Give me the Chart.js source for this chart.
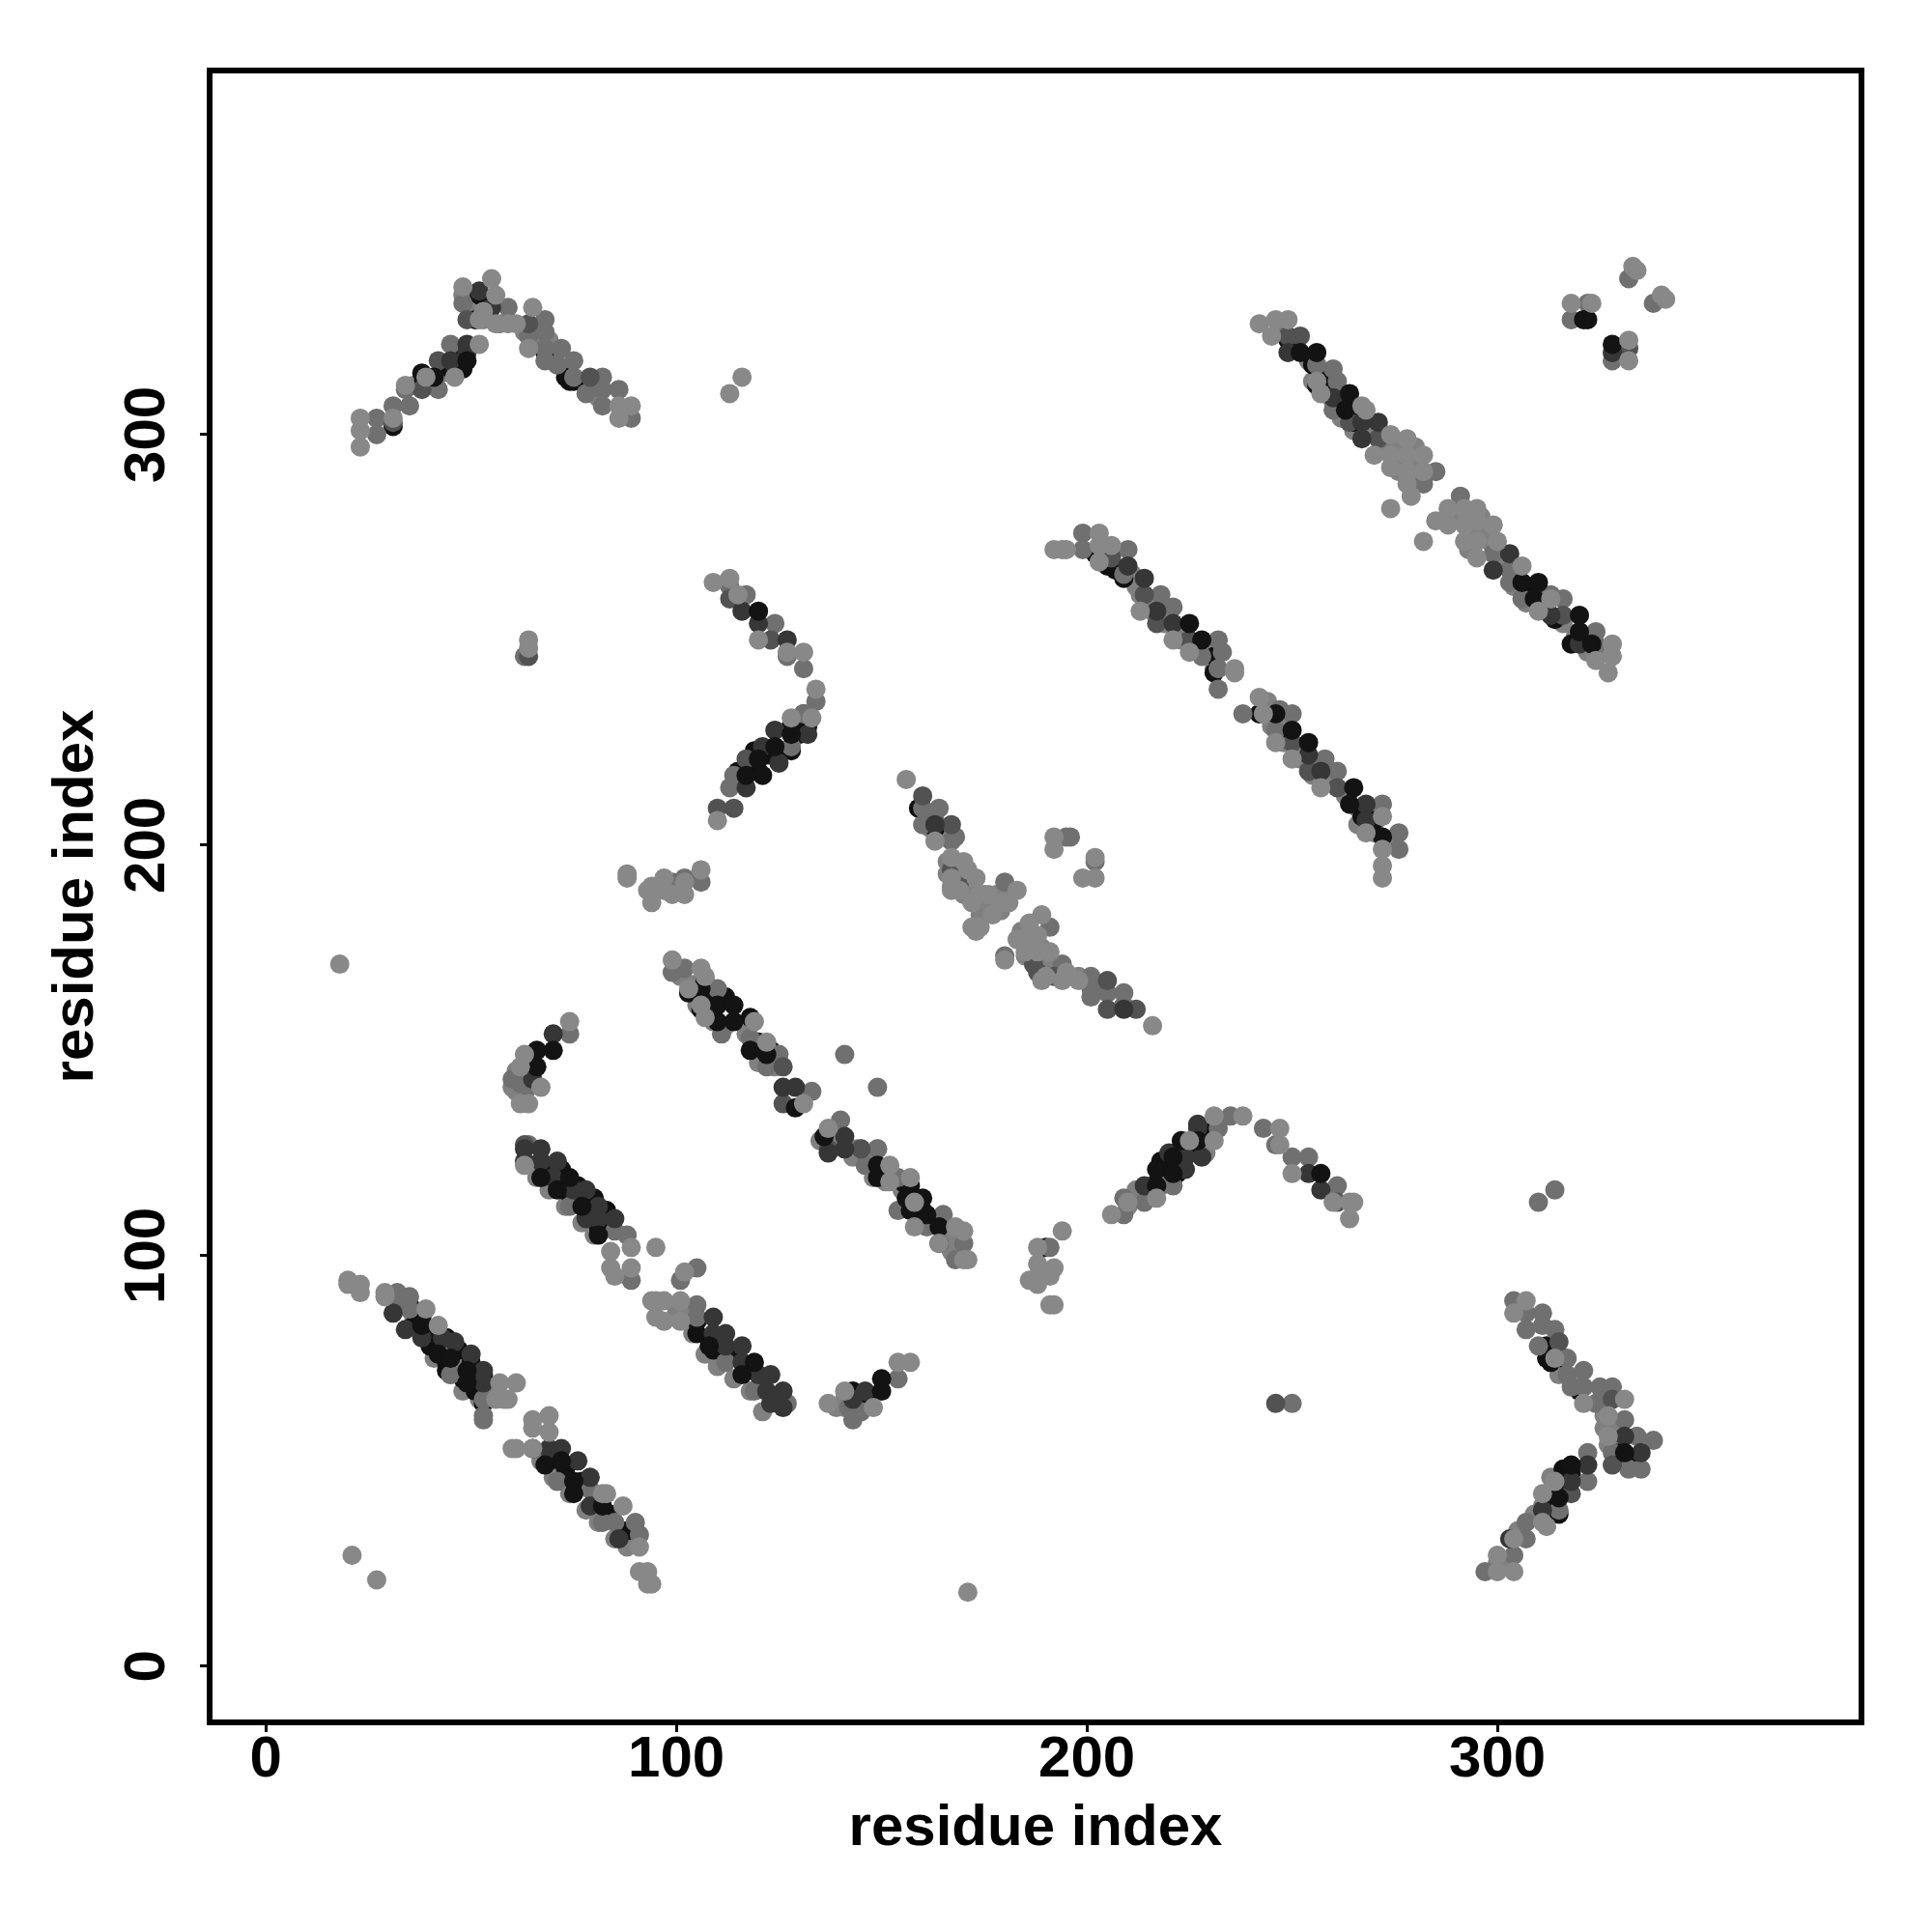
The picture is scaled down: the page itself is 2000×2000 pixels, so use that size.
<!DOCTYPE html>
<html>
<head>
<meta charset="utf-8">
<title>residue contacts</title>
<script src="https://cdn.jsdelivr.net/npm/chart.js@4"></script>
<style>
  body { margin: 0; background: #fff; }
  canvas { display: block; }
</style>
</head>
<body>
<canvas id="myChart" width="2000" height="2000"></canvas>
<script>
// contact points [residue, residue], grouped by grey level
// grey edge of the bands, mostly hidden by the darker points
const fringeDots = [[33,88],[36,85],[39,81],[41,75],[45,71],[48,67],[52,65],[43,77],[47,73],[50,68],[54,68],
  [67,50],[70,46],[74,42],[78,38],[81,35],[85,31],[88,29],
  [104,81],[107,76],[110,73],[114,70],[118,67],[121,62],[100,86],[103,86],
  [66,119],[69,116],[73,112],[77,108],[80,105],[65,122],
  [103,164],[105,161],[109,157],[112,156],[117,154],[119,150],[120,147],[124,146],[101,168],[104,166],
  [145,126],[149,126],[144,126],[148,119],[151,118],[135,128],[139,128],[143,124],[147,123],[151,120],[155,116],[159,112],[162,108],[166,104],[166,107],[167,101],
  [255,313],[258,310],[260,308],[262,304],[265,301],[276,298],[280,297],[276,294],[280,293],[276,291],[281,290],[272,297],[277,297],
  [293,280],[296,280],[293,276],[297,276],[290,280],[298,274],[293,272],[304,263],[307,259],[312,258],[311,259],
  [247,326],[251,322],[254,318],[257,315],[262,309],[266,305],[269,301],[272,299],[301,269],[305,265],[308,263],[312,259],[316,254],[319,251],[322,247],[326,247],
  [213,261],[216,257],[219,254],[223,250],[230,246],[231,243],[243,233],[245,229],[248,225],[252,221],[255,217],[266,205],[270,203],
  [216,260],[219,257],[222,253],[226,249],[229,247],[212,263],[208,267],[211,266],[220,256],[224,252],
  [244,235],[248,230],[252,224],[256,220],[259,216],[263,212],[266,209],[270,205],[274,201],[270,209],
  [166,196],[166,193],[167,190],[169,194],[170,192],[170,188],[174,186],[175,188],[174,183],[178,188],[181,188],[179,184],[177,185],[172,188],
  [184,179],[185,175],[185,173],[187,175],[187,178],[189,175],[190,172],[189,168],[192,171],[196,168],[194,169],[198,168],[162,204],[165,202],[164,202],[161,207],
  [212,114],[215,116],[210,112],[212,116],[229,125],[36,312],[40,312],[43,315],[48,334],[50,334],[51,331],[53,328],[57,327],[63,325],[65,323],[69,323],[71,317],[73,316],[79,311],[81,309],
  [313,77],[315,73],[315,71],[319,68],[325,64],[326,61],[326,58],[329,59],[327,54],[332,51],[313,42],[313,46],[311,39],[300,25],[302,25],[305,33],[309,37],
  [141,63],[144,63],[141,65],[139,63],[61,145],[60,141],[61,140],[63,147]]

const underDots = [[53,64],[65,53],[90,33],[105,84],[105,81],[62,144],[118,158],[103,164],[107,164],[106,160],[157,115],[249,323],[159,209],[163,204],[231,246],[231,242],[242,232],[68,320],[74,313],[202,271],[131,232],[128,223],[190,102],[312,78],[313,74],[316,75],[320,67],[315,37],[256,312],[61,143],[31,302],
  [36,83],[40,78],[44,74],[48,70],[51,67],[44,72],[35,88],[38,85],[41,82],[44,80],[47,77],[50,74],[53,71],
  [69,50],[73,48],[77,45],[80,40],[84,37],[88,33],[109,77],[113,76],[117,73],[121,69],[124,65],
  [71,118],[74,115],[78,112],[81,107],[68,121],[72,121],[76,117],[80,114],[83,111],
  [107,167],[109,162],[112,163],[123,150],[120,152],[155,118],[157,117],[160,111],[164,103],
  [255,317],[263,308],[261,311],[258,314],[265,303],[304,266],[308,261],[309,262],[314,255],[318,249],
  [203,271],[206,271],[205,268],[207,267],[209,265],[248,226],[267,207],[270,206],
  [120,218],[118,218],[123,222],[126,223],[130,227],[132,229],[122,222],[119,223],[115,218],[128,229],
  [216,117],[219,118],[222,120],[219,121],[222,123],[226,126],[229,130],[225,126],[218,123],
  [38,312],[45,316],[47,320],[48,316],[52,334],[51,328],[73,314],[75,313],[77,313],
  [312,75],[330,52],[332,49],[315,42],[316,45],[316,48],[318,47],[312,39],[143,63],[147,65],[143,67],[64,143],[64,145]]

const midDots = [[32,91],[35,90],[35,87],[32,89],[53,65],[53,61],[53,60],[45,71],[71,45],[79,43],[82,35],[85,35],[90,35],[91,32],[105,97],[101,94],[105,88],[105,85],[127,64],[112,74],[119,67],[64,127],
  [74,154],[60,143],[62,142],[64,141],[64,146],[74,112],[85,106],[88,105],[89,94],[111,154],[118,153],[110,165],[102,170],[99,169],[122,146],[125,149],[133,140],[141,149],[149,141],[140,133],[149,126],[146,122],[154,119],[154,111],[161,107],[165,110],[170,103],[168,99],[143,60],[145,62],[142,63],[154,70],
  [27,304],[27,300],[31,307],[35,307],[34,311],[42,311],[45,322],[48,332],[59,331],[64,324],[68,328],[68,325],[68,321],[68,318],[72,321],[71,317],[75,318],[75,314],[82,314],[78,310],[82,311],[86,311],[82,307],[89,304],[63,246],
  [113,263],[117,261],[124,254],[127,246],[131,243],[134,235],[131,232],[128,224],[114,217],[113,214],[106,191],[99,191],[102,192],
  [256,317],[260,316],[261,313],[260,306],[285,291],[282,288],[291,285],[299,271],[303,267],[303,264],[306,260],[313,261],[316,260],[324,252],[324,249],[318,328],[322,332],[328,318],[332,338],[338,332],
  [199,276],[199,272],[210,272],[209,266],[218,261],[221,258],[228,246],[232,250],[233,247],[232,243],[232,238],[238,232],[247,233],[250,232],[246,228],[258,221],[261,218],[272,210],[276,203],[276,199],[195,202],[196,202],[202,196],
  [160,209],[160,205],[164,209],[163,206],[168,202],[167,201],[180,191],[191,180],[194,171],[201,168],[201,165],[201,163],[205,164],[209,164],[209,161],[180,173],
  [191,102],[209,110],[209,114],[214,113],[218,117],[221,117],[232,131],[235,134],[243,131],[246,127],[250,124],[254,124],[261,117],
  [304,89],[307,86],[311,86],[307,82],[311,83],[310,78],[314,82],[317,75],[317,71],[321,72],[318,68],[321,68],[325,68],[328,68],[324,64],[331,60],[334,56],[338,55],[328,52],[332,48],[335,48],[322,52],[322,45],[315,38],[307,35],[307,31],[304,27],[297,23],
  [310,113],[314,116],[250,64]]

const dimDots = [[64,246],[42,318],[38,311],[79,314],[64,327],[49,328],[31,303],[113,260],[123,250],[117,221],[110,209],[114,209],[126,146],[126,137],[137,126],[145,126],[63,127],
  [249,324],[252,324],[264,303],[271,299],[206,270],[214,261],[217,254],[225,250],[261,214],[254,218],[250,225],[167,205],[160,212],[167,194],[169,191],[187,171],[188,169],[192,168],[205,167],[205,160],[212,160],[328,49],[316,256],[328,65],[315,79],[261,113],[318,42],[246,64],[332,321]]

const darkDots = [[31,86],[34,82],[38,80],[43,80],[46,79],[50,76],[53,72],[53,69],[69,53],[72,53],[76,50],[79,46],[79,39],[86,31],
  [109,85],[109,81],[112,81],[112,78],[116,78],[116,74],[120,71],[123,71],[122,67],[126,67],[123,64],[126,63],
  [70,154],[65,143],[63,126],[67,126],[63,123],[67,123],[71,123],[70,119],[75,116],[78,116],[81,112],[78,109],[81,109],[85,109],
  [126,141],[129,141],[141,129],[141,126],[137,125],[143,65],[146,67],
  [49,322],[49,320],[45,318],[52,335],[55,331],
  [116,257],[120,254],[127,250],[132,227],[124,228],[121,224],[125,220],[117,214],
  [249,320],[260,309],[267,303],[271,303],[267,299],[303,271],[299,267],[313,256],[320,249],[328,320],
  [214,265],[217,257],[221,254],[254,222],[257,218],[268,210],[268,206],[210,268],
  [163,205],[209,160],[214,117],[224,121],[228,124],[227,132],[227,131],[220,125],[254,120],[257,116],[224,124],
  [331,56],[335,52],[322,49],[318,45],[311,38],[303,31]]

const blackDots = [[38,83],[42,76],[45,75],[49,72],[49,69],[68,49],[72,50],[75,45],[75,42],[82,39],
  [108,78],[116,71],[119,74],[66,150],[70,150],[66,146],[67,119],[74,119],[71,116],[77,112],[81,105],
  [118,150],[122,149],[110,161],[114,161],[110,157],[114,157],[106,165],[129,136],[136,129],[149,122],[149,119],[156,114],[160,114],[157,111],[161,110],[164,107],[150,67],[150,70],
  [41,314],[38,315],[49,318],
  [120,257],[128,227],[124,224],[120,221],[121,217],[117,217],
  [252,320],[256,320],[264,310],[263,306],[306,264],[310,264],[309,260],[320,256],[320,252],[323,249],[322,328],[321,328],[328,322],
  [225,254],[228,250],[246,232],[250,228],[254,225],[265,214],[264,210],[272,202],
  [217,117],[217,121],[221,120],[221,124],[223,128],[227,128],[257,120],
  [331,52],[318,49],[315,41]]

const paleDots = [[20,94],[20,93],[23,93],[23,91],[29,91],[29,90],[39,87],[42,83],[57,69],[61,69],[56,65],[59,65],[58,65],[65,60],[69,61],[69,57],[65,58],[61,53],[60,53],[65,53],[83,42],[82,42],[87,39],[91,29],[91,23],[93,23],[94,20],[93,20],[21,27],[27,21],
  [94,89],[97,89],[95,89],[95,85],[97,84],[101,89],[101,84],[102,96],[74,157],[63,149],[62,146],[67,141],[62,137],[64,137],[63,122],[84,101],[89,102],[84,97],[85,95],[89,97],[95,102],
  [99,172],[106,170],[107,168],[103,165],[106,161],[107,158],[119,157],[122,152],[131,137],[137,131],[152,122],[152,118],[157,119],[158,113],[158,107],[164,103],[168,107],[170,106],[171,99],[170,99],
  [137,64],[141,67],[148,63],[154,74],[157,74],
  [23,304],[23,301],[23,297],[31,304],[34,312],[39,314],[46,314],[52,322],[48,336],[53,330],[55,338],[56,334],[56,327],[59,327],[61,327],[65,331],[64,321],[89,307],[86,304],[116,314],[113,310],[64,250],[64,248],[86,307],[52,328],
  [109,264],[113,265],[115,261],[120,250],[127,247],[131,247],[134,238],[128,231],[133,231],[110,206],
  [88,192],[88,193],[93,189],[94,186],[94,190],[97,192],[97,189],[99,188],[102,188],[102,191],[106,194],
  [242,327],[246,328],[249,328],[245,324],[256,313],[257,310],[267,307],[268,306],[270,295],[274,300],[274,295],[274,292],[278,299],[278,295],[278,291],[278,288],[279,285],[282,295],[282,291],[274,282],[282,274],
  [288,282],[285,279],[288,278],[292,282],[295,282],[292,278],[295,279],[299,278],[292,274],[295,274],[300,274],[295,270],[306,268],[310,257],[313,260],[327,242],[324,245],[328,249],[328,246],
  [318,332],[323,332],[332,323],[332,318],[333,341],[334,340],[340,334],[341,333],
  [192,272],[194,272],[195,272],[203,276],[203,273],[203,269],[206,273],[213,257],[221,250],[225,247],[236,243],[236,242],[242,236],[243,232],[246,225],[250,221],[257,214],[272,207],[268,203],[272,199],[272,195],[272,192],[192,202],[192,199],[202,197],[199,192],[202,192],
  [156,216],[167,197],[167,192],[167,189],[170,196],[169,189],[171,194],[173,192],[172,186],[174,188],[177,183],[176,188],[183,189],[181,186],[179,186],[172,180],[174,180],[173,179],[189,183],[186,181],[183,177],[185,177],[188,178],[180,172],[185,174],[188,174],[191,174],[190,168],[189,167],[195,169],[194,167],[198,167],[216,156],[163,201],
  [188,102],[188,98],[192,97],[189,96],[186,94],[188,93],[191,95],[188,95],[191,88],[192,88],[194,106],[206,110],[210,113],[217,114],[225,128],[231,128],[231,134],[238,134],[247,131],[247,127],[250,120],[260,113],[264,113],[265,113],[264,109],
  [307,89],[304,86],[314,75],[321,64],[331,65],[327,61],[327,56],[314,45],[311,42],[312,34],[311,35],[304,31],[300,27],[304,23],[300,23],
  [171,18],[18,171]]

const tickValues = [0, 100, 200, 300]
const axisTitle = "residue index"
const axisMin = -13.7
const axisMax = 388.7

function crearDataset(label, dots, color){
    return {
        label,
        data: dots.map(([x, y]) => ({x, y})),
        backgroundColor: color,
        borderWidth: 0,
        pointRadius: 10,
        pointHoverRadius: 10,
        showLine: false
    }
}

// chart.js paints the first dataset last, so the top layer goes first
const datasets = [
    crearDataset("pale", paleDots, "#888888"),
    crearDataset("black", blackDots, "#131313"),
    crearDataset("dark", darkDots, "#363636"),
    crearDataset("dim", dimDots, "#525252"),
    crearDataset("mid", midDots, "#707070"),
    crearDataset("under", underDots, "#111111"),
    crearDataset("fringe", fringeDots, "#808080")
]

const fuente = {family: "'Liberation Sans'", size: 60, weight: "bold"}

function ejeBase(){
    return {
        type: "linear",
        min: axisMin,
        max: axisMax,
        afterBuildTicks: axis => { axis.ticks = tickValues.map(value => ({value})) },
        border: {display: false},
        grid: {drawOnChartArea: false, drawTicks: true, tickLength: 10, tickWidth: 3, tickColor: "#000"}
    }
}

// the box round the plot
const marco = {
    id: "marco",
    afterDraw(chart){
        const {ctx, chartArea: a} = chart
        ctx.save()
        ctx.strokeStyle = "#000"
        ctx.lineWidth = 6
        ctx.strokeRect(a.left, a.top, a.right - a.left, a.bottom - a.top)
        ctx.restore()
    }
}

const myChart = new Chart(document.querySelector("#myChart"), {
    type: "scatter",
    data: {datasets},
    plugins: [marco],
    options: {
        responsive: false,
        animation: false,
        devicePixelRatio: 1,
        layout: {padding: {top: 73, right: 73, left: 0, bottom: 0}},
        plugins: {legend: {display: false}, tooltip: {enabled: false}},
        scales: {
            x: {
                ...ejeBase(),
                afterFit: axis => { axis.height = 217 },
                ticks: {color: "#000", font: fuente, padding: -7, autoSkip: false, maxRotation: 0, minRotation: 0},
                title: {display: true, text: axisTitle, color: "#000", font: fuente, padding: {top: 0, bottom: 71}}
            },
            y: {
                ...ejeBase(),
                afterFit: axis => { axis.width = 217 },
                ticks: {color: "#000", font: fuente, padding: 3, autoSkip: false, minRotation: 90, maxRotation: 90, crossAlign: "center"},
                title: {display: true, text: axisTitle, color: "#000", font: fuente, padding: {top: 43, bottom: 0}}
            }
        }
    }
})
</script>
</body>
</html>
